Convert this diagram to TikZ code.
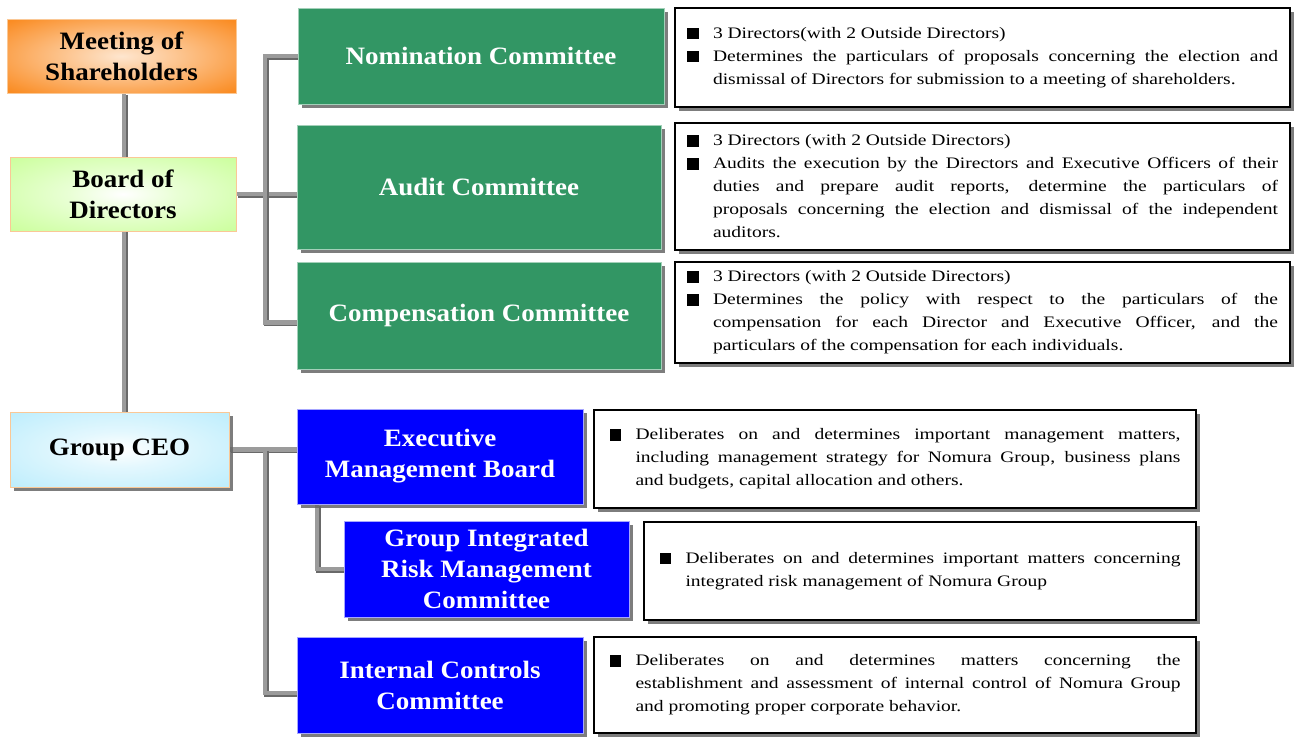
\documentclass[tikz,border=0pt]{standalone}
\usepackage{fontspec}
\setmainfont{Liberation Serif}
\newfontfamily\lblfont{Liberation Serif}[FakeStretch=1.08]
\newfontfamily\descfont{Liberation Serif}[FakeStretch=1.22]
\usetikzlibrary{shadows,backgrounds}

\definecolor{orgC}{RGB}{250,140,35}
\definecolor{grnL}{RGB}{200,255,150}
\definecolor{cyanL}{RGB}{185,236,252}
\definecolor{peach}{RGB}{250,200,150}
\definecolor{comG}{RGB}{50,150,100}
\definecolor{comB}{RGB}{0,0,255}
\definecolor{lineG}{RGB}{155,155,155}
\definecolor{shadowG}{RGB}{105,105,105}

\pgfdeclareradialshading{meetsh}{\pgfpoint{0bp}{0bp}}{color(0bp)=(orgC!22!white); color(10bp)=(orgC!45!white); color(34bp)=(orgC); color(50bp)=(orgC)}
\pgfdeclareradialshading{boardsh}{\pgfpoint{0bp}{0bp}}{color(0bp)=(white); color(12bp)=(grnL!40!white); color(38bp)=(grnL); color(50bp)=(grnL)}
\pgfdeclareradialshading{ceosh}{\pgfpoint{0bp}{0bp}}{color(0bp)=(white); color(12bp)=(cyanL!40!white); color(38bp)=(cyanL); color(50bp)=(cyanL)}

\newcommand{\bitem}[1]{\noindent\hangindent=26pt\hangafter=1\makebox[26pt][l]{\rule[-0.8pt]{11.5pt}{11.5pt}}#1\par}
\newcommand{\cnx}[1]{\draw[connsh] #1; \draw[conn] #1;}

\tikzset{
  base/.style={rectangle, anchor=north west, outer sep=0pt, inner sep=0pt, align=center},
  lbl/.style={font=\lblfont\bfseries\fontsize{25}{31}\selectfont},
  shdw/.style={drop shadow={shadow xshift=4pt, shadow yshift=-4pt, fill=black!60, opacity=0.85}},
  topbox/.style={base, lbl, draw=peach, line width=0.9pt, text=black, shade, shading=#1},
  comm/.style={base, lbl, shdw, fill=comG, draw=comG!45!white, line width=1pt, text=white},
  bcomm/.style={base, lbl, shdw, fill=comB, draw=comB!35!white, line width=1pt, text=white},
  desc/.style={base, shdw, fill=white, draw=black, line width=1.1pt, align=justify,
    font=\descfont\fontsize{16}{23}\selectfont},
  conn/.style={draw=lineG, line width=4.5pt, line join=miter},
  connsh/.style={draw=shadowG, line width=4.5pt, line join=miter, transform canvas={shift={(1.5pt,-1.5pt)}}},
}

\begin{document}
\begin{tikzpicture}[x=1pt,y=-1pt]
\useasboundingbox (0,0) rectangle (1295,736);
\tolerance=10000 \hyphenpenalty=10000

% left column
\node[topbox=meetsh, minimum width=229pt, minimum height=74pt] (meet) at (7,19) {Meeting of\\Shareholders};
\node[topbox=boardsh, minimum width=226pt, minimum height=74pt] (board) at (10,157) {Board of\\Directors};
\node[topbox=ceosh, shdw, minimum width=219pt, minimum height=75pt] (ceo) at (10,412) {Group CEO};

% committees of the board
\node[comm, minimum width=366pt, minimum height=96pt] (nom) at (298,8) {Nomination Committee};
\node[comm, minimum width=364pt, minimum height=124pt] (audit) at (297,125) {Audit Committee};
\node[comm, minimum width=364pt, minimum height=107pt] (comp) at (297,262) {Compensation Committee};

\node[desc, minimum width=615pt, minimum height=99pt, text width=591pt] (nomt) at (675,8) {%
\bitem{3 Directors(with 2 Outside Directors)}%
\bitem{Determines the particulars of proposals concerning the election and\linebreak dismissal of Directors for submission to a meeting of shareholders.}};
\node[desc, minimum width=615pt, minimum height=127pt, text width=591pt] (auditt) at (675,123) {%
\bitem{3 Directors (with 2 Outside Directors)}%
\bitem{Audits the execution by the Directors and Executive Officers of their\linebreak duties and prepare audit reports, determine the particulars of\linebreak proposals concerning the election and dismissal of the independent\linebreak auditors.}};
\node[desc, minimum width=615pt, minimum height=101pt, text width=591pt] (compt) at (675,262) {%
\bitem{3 Directors (with 2 Outside Directors)}%
\bitem{Determines the policy with respect to the particulars of the\linebreak compensation for each Director and Executive Officer, and the\linebreak particulars of the compensation for each individuals.}};

% executive bodies
\node[bcomm, minimum width=286pt, minimum height=95pt] (exec) at (297,409) {Executive\\Management Board};
\node[bcomm, minimum width=285pt, minimum height=96pt] (girm) at (344,521) {Group Integrated\\Risk Management\\Committee};
\node[bcomm, minimum width=286pt, minimum height=96pt] (icc) at (297,637) {Internal Controls\\Committee};

\node[desc, minimum width=602pt, minimum height=98pt, text width=571pt] (exect) at (594,410) {%
\bitem{Deliberates on and determines important management matters,\linebreak including management strategy for Nomura Group, business plans\linebreak and budgets, capital allocation and others.}};
\node[desc, minimum width=552pt, minimum height=98pt, text width=521pt] (girmt) at (644,522) {%
\bitem{Deliberates on and determines important matters concerning\linebreak integrated risk management of Nomura Group}};
\node[desc, minimum width=602pt, minimum height=96pt, text width=571pt] (icct) at (594,637) {%
\bitem{Deliberates on and determines matters concerning the\linebreak establishment and assessment of internal control of Nomura Group\linebreak and promoting proper corporate behavior.}};

% connectors
\coordinate (vx) at (124,0);
\coordinate (bx) at (265,0);
\coordinate (cw) at ([yshift=-7pt]comp.west);
\coordinate (iw) at ([yshift=-8pt]icc.west);
\coordinate (ex) at ([xshift=20pt]exec.south west);
\begin{scope}[on background layer]
\cnx{(vx |- meet.south) -- (vx |- ceo.north)}
\cnx{(board.east) -- (board.east -| audit.west)}
\cnx{(nom.west) -- (bx |- nom.west) -- (bx |- cw) -- (cw)}
\cnx{(ceo.east) -- (ceo.east -| exec.west)}
\cnx{(bx |- ceo.east) -- (bx |- iw) -- (iw)}
\cnx{(ex) |- (girm.west)}
\end{scope}
\end{tikzpicture}
\end{document}
